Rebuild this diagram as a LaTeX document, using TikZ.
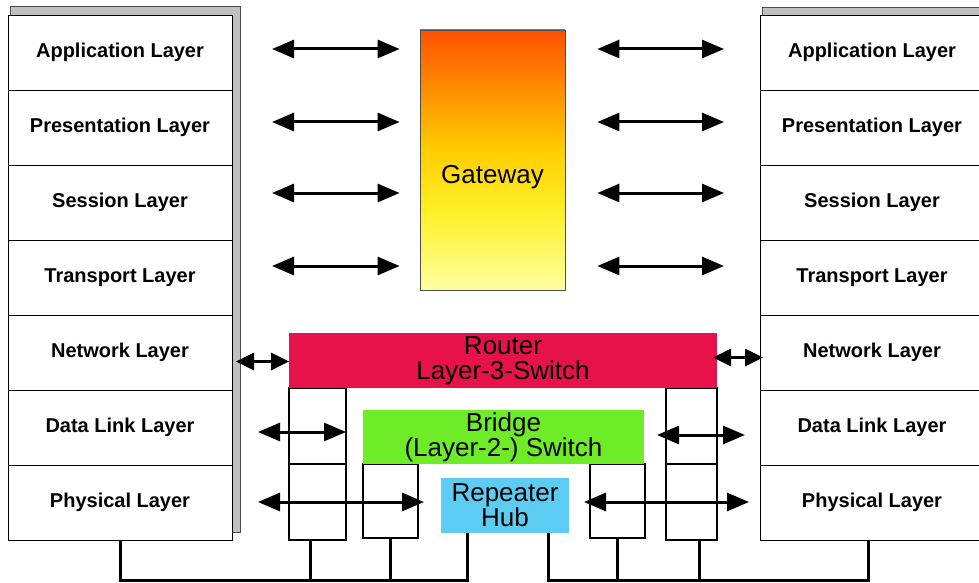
\documentclass[tikz,border=0pt]{standalone}
\usepackage{fontspec}
\setmainfont{Liberation Sans}
\usetikzlibrary{arrows.meta,positioning,calc,backgrounds}
\definecolor{routerred}{RGB}{232,18,74}
\definecolor{bridgegreen}{RGB}{110,236,40}
\definecolor{hubblue}{RGB}{92,204,242}
\definecolor{gate1}{RGB}{255,255,160}
\definecolor{gate2}{RGB}{255,240,40}
\definecolor{gate3}{RGB}{255,205,0}
\definecolor{gate4}{RGB}{255,150,0}
\definecolor{gate5}{RGB}{255,80,0}
\definecolor{shadowgray}{RGB}{192,192,192}
\pgfdeclareverticalshading{gateshade}{100bp}{color(0bp)=(gate1); color(25bp)=(gate1);
  color(40bp)=(gate2); color(52bp)=(gate3); color(62bp)=(gate4); color(75bp)=(gate5); color(100bp)=(gate5)}
\tikzset{
  layer/.style={
    draw=black, line width=0.8pt, fill=white,
    minimum width=224pt, minimum height=75pt,
    inner sep=0pt, outer sep=0pt,
    font=\bfseries\fontsize{20}{22}\selectfont
  },
  stackshadow/.style={fill=shadowgray, draw=black!70, line width=0.7pt},
  devbox/.style={
    align=center, inner sep=0pt, outer sep=0pt,
    font=\fontsize{26}{25}\selectfont
  },
  cellbox/.style={
    draw=black, line width=1.2pt, fill=white,
    inner sep=0pt, outer sep=0pt
  },
  dbl/.style={
    {Triangle[length=22pt,width=18pt]}-{Triangle[length=22pt,width=18pt]},
    line width=3pt
  },
  netdbl/.style={
    {Triangle[length=18pt,width=17pt]}-{Triangle[length=18pt,width=17pt]},
    line width=3pt
  },
  wire/.style={line width=3pt}
}
\begin{document}
\begin{tikzpicture}[x=1pt,y=-1pt]
\useasboundingbox (0,0) rectangle (979,583);

%--------------------------------------------------
% Left protocol stack
%--------------------------------------------------
\node[layer] (lapp) at (120,52.5) {Application Layer};
\node[layer, below=0pt of lapp] (lpres) {Presentation Layer};
\node[layer, below=0pt of lpres] (lsess) {Session Layer};
\node[layer, below=0pt of lsess] (ltrans) {Transport Layer};
\node[layer, below=0pt of ltrans] (lnet) {Network Layer};
\node[layer, below=0pt of lnet] (ldata) {Data Link Layer};
\node[layer, below=0pt of ldata] (lphys) {Physical Layer};

%--------------------------------------------------
% Right protocol stack
%--------------------------------------------------
\node[layer] (rapp) at (872,52.5) {Application Layer};
\node[layer, below=0pt of rapp] (rpres) {Presentation Layer};
\node[layer, below=0pt of rpres] (rsess) {Session Layer};
\node[layer, below=0pt of rsess] (rtrans) {Transport Layer};
\node[layer, below=0pt of rtrans] (rnet) {Network Layer};
\node[layer, below=0pt of rnet] (rdata) {Data Link Layer};
\node[layer, below=0pt of rdata] (rphys) {Physical Layer};

% shadows behind the stacks
\begin{scope}[on background layer]
  \draw[stackshadow] ($(lapp.north west)+(2,-9)$) rectangle ($(lphys.south east)+(8,-8)$);
  \draw[stackshadow] ($(rapp.north west)+(2,-8)$) rectangle ($(rphys.south east)+(8,-8)$);
\end{scope}

%--------------------------------------------------
% Gateway
%--------------------------------------------------
\node[draw=black!70, line width=0.8pt, minimum width=145pt, minimum height=260pt,
      shading=gateshade] (gateway) at (492.5,160) {};
\node[devbox] (gatetext) at ($(gateway.center)+(0,17)$) {Gateway};

%--------------------------------------------------
% Device cells below router and bridge
%--------------------------------------------------
\node[cellbox, minimum width=57pt, minimum height=76pt] (rl1) at (317.5,426) {};
\node[cellbox, minimum width=57pt, minimum height=76pt, below=0pt of rl1] (rl2) {};
\node[cellbox, minimum width=51pt, minimum height=76pt] (rr1) at (691.5,426) {};
\node[cellbox, minimum width=51pt, minimum height=76pt, below=0pt of rr1] (rr2) {};
\node[cellbox, minimum width=55pt, minimum height=74pt] (bl) at (390.5,501) {};
\node[cellbox, minimum width=55pt, minimum height=74pt] (br) at (617.5,501) {};

%--------------------------------------------------
% Router, bridge, hub
%--------------------------------------------------
\node[devbox, fill=routerred, minimum width=428pt, minimum height=55pt] (router) at (503,360.5)
{Router\\Layer-3-Switch};
\node[devbox, fill=bridgegreen, minimum width=281pt, minimum height=54pt] (bridge) at (503.5,437)
{Bridge\\(Layer-2-) Switch};
\node[devbox, fill=hubblue, minimum width=128pt, minimum height=55pt] (hub) at (505,505.5)
{Repeater\\Hub};

%--------------------------------------------------
% Cabling
%--------------------------------------------------
\coordinate (lbus) at ($(lphys.south)+(0,40)$);
\draw[wire] (lphys.south) -- (lbus) -| ($(hub.south)+(-38,0)$);
\draw[wire] ($(rl2.south)+(-7,0)$) |- (lbus);
\draw[wire] (bl.south) |- (lbus);

\coordinate (rbus) at ($(rphys.south)+(-4,40)$);
\draw[wire] ($(rphys.south)+(-4,0)$) -- (rbus) -| ($(hub.south)+(43,0)$);
\draw[wire] ($(rr2.south)+(8,0)$) |- (rbus);
\draw[wire] (br.south) |- (rbus);

%--------------------------------------------------
% Peer arrows
%--------------------------------------------------
\foreach \r/\dy in {app/-3.5,pres/-5.5,sess/-9.5,trans/-11.5} {
  \draw[dbl] ($(l\r.east)+(40,\dy)$) -- ($(gateway.west |- l\r.east)+(-20,\dy)$);
  \draw[dbl] ($(gateway.east |- r\r.west)+(32,\dy)$) -- ($(r\r.west)+(-36,\dy)$);
}

\draw[netdbl] ($(lnet.east |- router.west)+(4,1)$) -- ($(router.west)+(0,1)$);
\draw[netdbl] ($(router.east)+(-4,-3)$) -- ($(rnet.west |- router.east)+(3,-3)$);

\draw[dbl] ($(ldata.east)+(26,4.5)$) -- ($(rl1.east |- ldata.east)+(0,4.5)$);
\draw[dbl] ($(rr1.west |- rdata.west)+(-9,7.5)$) -- ($(rdata.west)+(-15,7.5)$);

\draw[dbl] ($(lphys.east)+(26,-0.5)$) -- ($(bl.east |- lphys.east)+(6,-0.5)$);
\draw[dbl] ($(br.west |- rphys.west)+(-6,-0.5)$) -- ($(rphys.west)+(-11,-0.5)$);

\end{tikzpicture}
\end{document}
